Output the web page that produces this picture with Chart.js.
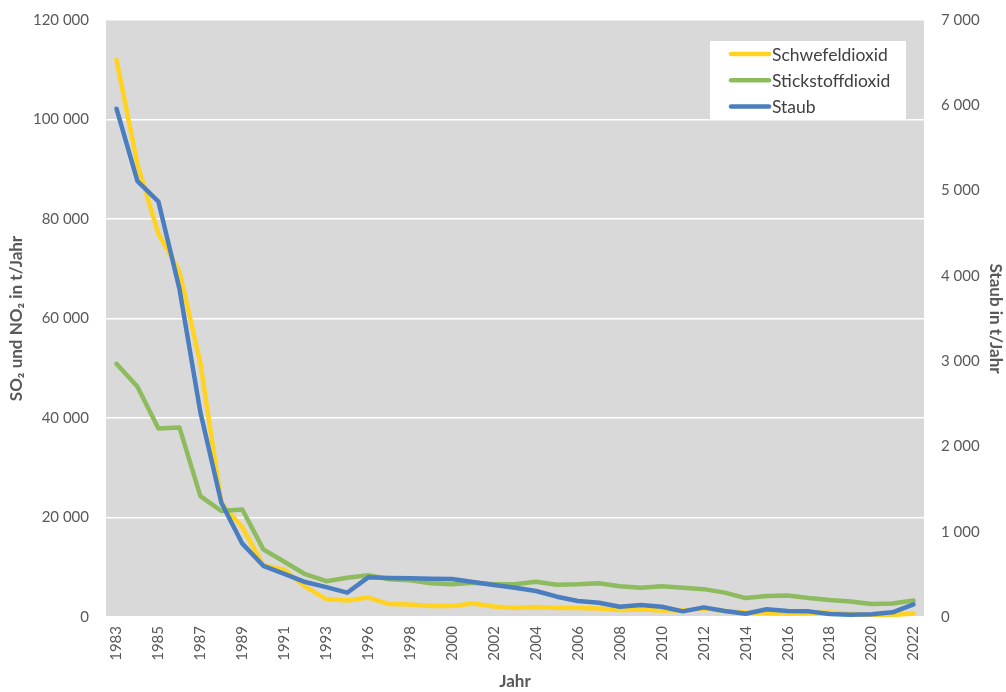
<!DOCTYPE html>
<html>
<head>
<meta charset="utf-8">
<script src="https://cdn.jsdelivr.net/npm/chart.js@4.4.1/dist/chart.umd.min.js"></script>
<style>
  html, body { margin: 0; padding: 0; background: #fff; }
  #wrap { width: 1006px; height: 692px; position: relative; }
</style>
</head>
<body>
<div id="wrap"><canvas id="myChart"></canvas></div>
<script>
// data
const years = ['1983','1984','1985','1986','1987','1988','1989','1990','1991','1992','1993','1995',
  '1996','1997','1998','1999','2000','2001','2002','2003','2004','2005','2006','2007','2008','2009',
  '2010','2011','2012','2013','2014','2015','2016','2017','2018','2019','2020','2021','2022'];

const so2 = [112000, 91000, 77000, 69500, 51000, 23000, 18000, 10400, 9500, 6100, 3600, 3300,
  3900, 2600, 2500, 2200, 2200, 2700, 2100, 1800, 2000, 1800, 1800, 1700, 1400, 1500,
  1300, 1300, 1700, 1200, 900, 800, 700, 800, 900, 700, 300, 400, 700];

const no2 = [50900, 46300, 37900, 38100, 24300, 21300, 21600, 13600, 11100, 8600, 7200, 7900,
  8400, 7600, 7400, 6800, 6600, 6900, 6600, 6600, 7100, 6500, 6600, 6800, 6200, 5900,
  6200, 5900, 5600, 4900, 3800, 4200, 4300, 3800, 3400, 3100, 2600, 2700, 3300];

const staub = [5960, 5110, 4870, 3850, 2400, 1340, 860, 600, 505, 410, 350, 285,
  465, 457, 454, 449, 446, 410, 375, 344, 305, 238, 188, 168, 121, 141,
  121, 66, 113, 70, 39, 90, 70, 66, 35, 27, 31, 55, 149];

const seriesNames = ['Schwefeldioxid', 'Stickstoffdioxid', 'Staub'];
const seriesColors = ['#FFD320', '#8DBB5E', '#4A7EBF'];

const leftTicks = [0, 20000, 40000, 60000, 80000, 100000, 120000];
const rightTicks = [0, 1000, 2000, 3000, 4000, 5000, 6000, 7000];

const FONT = 'Lato, Carlito, "Open Sans", sans-serif';
const GREY = '#595959';

function fmt(v) {
  return String(v).replace(/\B(?=(\d{3})+(?!\d))/g, ' ');
}

// grey plot background
const plotBg = {
  id: 'plotBg',
  beforeDraw(chart) {
    const { ctx, chartArea: a } = chart;
    ctx.save();
    ctx.fillStyle = '#D9D9D9';
    ctx.fillRect(a.left, a.top, a.right - a.left, a.bottom - a.top);
    ctx.restore();
  }
};

// legend box inside the plot, top right
const boxLegend = {
  id: 'boxLegend',
  afterDatasetsDraw(chart) {
    const { ctx, chartArea: a } = chart;
    const x = a.right - 214, y = a.top + 21, w = 196, h = 78;
    ctx.save();
    ctx.fillStyle = '#fff';
    ctx.fillRect(x, y, w, h);
    ctx.font = '17.5px ' + FONT;
    ctx.textBaseline = 'middle';
    chart.data.datasets.forEach((ds, i) => {
      const ly = y + 13 + i * 26.3;
      ctx.strokeStyle = ds.borderColor;
      ctx.lineWidth = 4.5;
      ctx.lineCap = 'round';
      ctx.beginPath();
      ctx.moveTo(x + 21, ly);
      ctx.lineTo(x + 59, ly);
      ctx.stroke();
      ctx.fillStyle = '#404040';
      ctx.fillText(ds.label, x + 62, ly + 1);
    });
    ctx.restore();
  }
};

const data = {
  labels: years,
  datasets: [
    { label: seriesNames[0], data: so2, borderColor: seriesColors[0], yAxisID: 'y', order: 3 },
    { label: seriesNames[1], data: no2, borderColor: seriesColors[1], yAxisID: 'y', order: 2 },
    { label: seriesNames[2], data: staub, borderColor: seriesColors[2], yAxisID: 'y1', order: 1 }
  ].map(d => Object.assign(d, {
    borderWidth: 4.5,
    pointRadius: 0,
    tension: 0,
    fill: false,
    borderCapStyle: 'round',
    borderJoinStyle: 'round'
  }))
};

const config = {
  type: 'line',
  data: data,
  options: {
    responsive: false,
    animation: false,
    layout: { padding: { top: 20, left: 0, right: 0, bottom: 0 } },
    plugins: { legend: { display: false }, tooltip: { enabled: false } },
    scales: {
      x: {
        offset: true,
        grid: { display: false, drawTicks: false },
        border: { display: false },
        ticks: {
          autoSkip: false, minRotation: 90, maxRotation: 90, padding: 9,
          color: GREY, font: { family: FONT, size: 15 },
          callback: function (v, i) { return i % 2 === 0 ? this.getLabelForValue(v) : ''; }
        },
        title: { display: true, text: 'Jahr', color: GREY, font: { family: FONT, size: 17, weight: 'bold' }, padding: { top: 0, bottom: 0 } },
        afterFit: s => { s.height = 75; s.paddingLeft = 0; s.paddingRight = 0; }
      },
      y: {
        position: 'left', min: 0, max: 120000,
        afterBuildTicks: s => { s.ticks = leftTicks.map(v => ({ value: v })); },
        grid: { color: '#FFFFFF', lineWidth: 1.5, drawTicks: false },
        border: { display: false },
        ticks: { padding: 17, color: GREY, font: { family: FONT, size: 15 }, callback: v => fmt(v) },
        title: { display: true, text: 'SO₂ und NO₂ in t/Jahr', color: GREY, font: { family: FONT, size: 17, weight: 'bold' }, padding: { top: 6, bottom: 0 } },
        afterFit: s => { s.width = 106; s.paddingTop = 0; s.paddingBottom = 0; }
      },
      y1: {
        position: 'right', min: 0, max: 7000,
        afterBuildTicks: s => { s.ticks = rightTicks.map(v => ({ value: v })); },
        grid: { display: false, drawTicks: false },
        border: { display: false },
        ticks: { padding: 17, color: GREY, font: { family: FONT, size: 15 }, callback: v => fmt(v) },
        title: { display: true, text: 'Staub in t/Jahr', color: GREY, font: { family: FONT, size: 17, weight: 'bold' }, padding: { top: 0, bottom: 0 } },
        afterFit: s => { s.width = 82; s.paddingTop = 0; s.paddingBottom = 0; }
      }
    }
  },
  plugins: [plotBg, boxLegend]
};

const cv = document.getElementById('myChart');
cv.width = 1006;
cv.height = 692;
const myChart = new Chart(cv, config);
</script>
</body>
</html>
